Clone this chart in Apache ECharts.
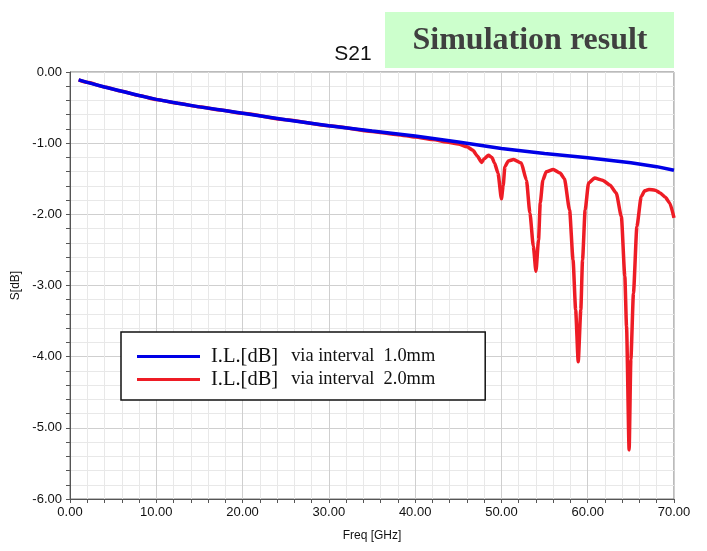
<!DOCTYPE html>
<html>
<head>
<meta charset="utf-8">
<script src="https://cdn.jsdelivr.net/npm/echarts@6/dist/echarts.min.js"></script>
<style>
  html, body { margin: 0; padding: 0; background: #fff; }
  #chart { width: 707px; height: 551px; }
</style>
</head>
<body>
<div id="chart"></div>
<script>
// via interval 1.0mm
var freqBlue = [1, 2, 4, 6, 8, 10, 12.5, 15, 17.5, 20, 25, 30, 35, 40, 45, 50, 55, 60, 65, 68, 70];
var ilBlue = [-0.11, -0.145, -0.21, -0.27, -0.33, -0.385, -0.44, -0.49, -0.535, -0.58, -0.67, -0.755, -0.83, -0.90, -0.985, -1.075, -1.145, -1.205, -1.275, -1.33, -1.38];

// via interval 2.0mm
var freqRed = [1, 2, 4, 6, 8, 10, 12.5, 15, 17.5, 20, 25, 30, 35, 38, 40, 42, 44, 45, 46, 46.7, 47.2, 47.7,
  48.0, 48.5, 48.9, 49.2, 49.6, 50.0, 50.2, 50.4, 50.8, 51.4, 52.3, 52.9, 53.3, 53.7, 54.0,
  54.3, 54.5, 54.8, 55.2, 56.0, 56.8, 57.3, 57.9, 58.3, 58.6, 58.9, 59.2, 59.4, 59.7, 60.1,
  60.8, 61.7, 62.6, 63.3, 63.9, 64.3, 64.5, 64.8, 65.0, 65.3, 65.7, 66.2, 66.6, 67.1, 67.8,
  68.4, 69.0, 69.5, 70];
var ilRed = [-0.11, -0.145, -0.21, -0.27, -0.33, -0.385, -0.44, -0.49, -0.535, -0.58, -0.67, -0.755, -0.835, -0.88, -0.915, -0.95, -0.99, -1.01, -1.05, -1.10, -1.18, -1.27,
  -1.22, -1.17, -1.20, -1.28, -1.42, -1.78, -1.60, -1.33, -1.25, -1.23, -1.28, -1.52, -1.98, -2.45, -2.80,
  -2.36, -1.84, -1.52, -1.40, -1.37, -1.42, -1.50, -1.94, -2.64, -3.34, -4.07, -3.34, -2.64, -1.94, -1.56,
  -1.49, -1.52, -1.59, -1.70, -2.03, -2.87, -3.58, -5.31, -4.04, -3.11, -2.17, -1.75, -1.67, -1.65, -1.66,
  -1.70, -1.76, -1.84, -2.05];

var legendNames = ['I.L.[dB]  via interval  1.0mm', 'I.L.[dB]  via interval  2.0mm'];

function pairs(xs, ys) {
  var out = [];
  for (var i = 0; i < xs.length; i++) out.push([xs[i], ys[i]]);
  return out;
}

var chart = echarts.init(document.getElementById('chart'));

var opt = {
  animation: false,
  backgroundColor: '#fff',
  grid: { left: 70, right: 33, top: 72, bottom: 52, show: true, borderColor: '#777', borderWidth: 1 },
  title: {
    text: 'S21',
    left: 348, top: 39,
    textAlign: 'center',
    textStyle: { fontFamily: 'Liberation Sans', fontSize: 21, fontWeight: 'normal', color: '#111' }
  },
  graphic: [
    { type: 'rect', z: 10, shape: { x: 385, y: 12, width: 289, height: 56 }, style: { fill: '#ccffcc' } },
    { type: 'text', z: 11, x: 530, y: 41, style: {
      text: 'Simulation result', fill: '#404040', align: 'center', verticalAlign: 'middle',
      font: 'bold 32px "Liberation Serif"' } }
  ],
  legend: {
    data: legendNames.map(function (n) { return { name: n, icon: 'rect' }; }),
    orient: 'vertical',
    left: 121, top: 332,
    padding: [14, 50, 10, 16],
    itemGap: 2,
    itemWidth: 63,
    itemHeight: 3,
    backgroundColor: '#fff',
    borderColor: '#111',
    borderWidth: 1.5,
    selectedMode: false,
    formatter: function (name) {
      var p = name.split('  ');
      return '{a|' + p[0] + '}{b|' + p.slice(1).join('  ') + '}';
    },
    textStyle: {
      rich: {
        a: { fontFamily: 'Liberation Serif', fontSize: 20.5, color: '#111', padding: [0, 0, 0, 6] },
        b: { fontFamily: 'Liberation Serif', fontSize: 18.4, color: '#111', padding: [0, 0, 0, 13] }
      }
    }
  },
  xAxis: {
    type: 'value', min: 0, max: 70, interval: 10,
    name: 'Freq [GHz]', nameLocation: 'middle', nameGap: 31,
    nameTextStyle: { fontFamily: 'Liberation Sans', fontSize: 12, color: '#111' },
    axisLine: { onZero: false, lineStyle: { color: '#555', width: 1 } },
    axisTick: { length: 4, inside: false, lineStyle: { color: '#555' } },
    minorTick: { show: true, splitNumber: 5, length: 4, lineStyle: { color: '#555' } },
    axisLabel: { formatter: function (v) { return v.toFixed(2); }, fontFamily: 'Liberation Sans', fontSize: 13, color: '#111', margin: 7 },
    splitLine: { lineStyle: { color: '#cfcfcf', width: 1 } },
    minorSplitLine: { show: true, lineStyle: { color: '#e8e8e8', width: 1 } }
  },
  yAxis: {
    type: 'value', min: -6, max: 0, interval: 1,
    name: 'S[dB]', nameLocation: 'middle', nameGap: 45,
    nameTextStyle: { fontFamily: 'Liberation Sans', fontSize: 12, color: '#111' },
    axisLine: { show: true, lineStyle: { color: '#555', width: 1 } },
    axisTick: { show: true, length: 4, lineStyle: { color: '#555' } },
    minorTick: { show: true, splitNumber: 5, length: 4, lineStyle: { color: '#555' } },
    axisLabel: { formatter: function (v) { return v.toFixed(2); }, fontFamily: 'Liberation Sans', fontSize: 13, color: '#111', margin: 8 },
    splitLine: { lineStyle: { color: '#cfcfcf', width: 1 } },
    minorSplitLine: { show: true, lineStyle: { color: '#e8e8e8', width: 1 } }
  },
  series: [
    {
      name: legendNames[0], type: 'line', z: 4, symbol: 'none', smooth: false,
      data: pairs(freqBlue, ilBlue),
      lineStyle: { color: '#0000e6', width: 3.5 }, itemStyle: { color: '#0000e6' }
    },
    {
      name: legendNames[1], type: 'line', z: 3, symbol: 'none', smooth: 0.2, smoothMonotone: 'x',
      data: pairs(freqRed, ilRed),
      lineStyle: { color: '#ee1c25', width: 3.5 }, itemStyle: { color: '#ee1c25' }
    }
  ]
};

chart.setOption(opt);
</script>
</body>
</html>
